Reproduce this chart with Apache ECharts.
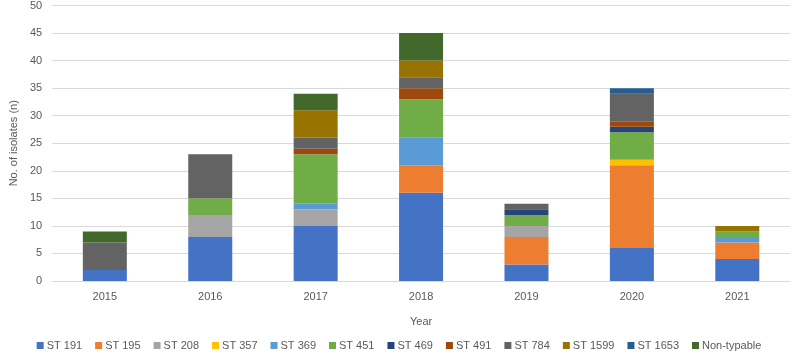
<!DOCTYPE html>
<html>
<head>
<meta charset="utf-8">
<script src="https://cdn.jsdelivr.net/npm/echarts@6/dist/echarts.min.js"></script>
<style>
  html, body { margin: 0; padding: 0; background: #fff; }
  #chart { width: 798px; height: 358px; }
</style>
</head>
<body>
<div id="chart"></div>
<script>
  const years = ["2015", "2016", "2017", "2018", "2019", "2020", "2021"];
  const st191 = [2, 8, 10, 16, 3, 6, 4];
  const st195 = [0, 0, 0, 5, 5, 15, 3];
  const st208 = [0, 4, 3, 0, 2, 0, 0];
  const st357 = [0, 0, 0, 0, 0, 1, 0];
  const st369 = [0, 0, 1, 5, 0, 0, 1];
  const st451 = [0, 3, 9, 7, 2, 5, 1];
  const st469 = [0, 0, 0, 0, 1, 1, 0];
  const st491 = [0, 0, 1, 2, 0, 1, 0];
  const st784 = [5, 8, 2, 2, 1, 5, 0];
  const st1599 = [0, 0, 5, 3, 0, 0, 1];
  const st1653 = [0, 0, 0, 0, 0, 1, 0];
  const nonTypable = [2, 0, 3, 5, 0, 0, 0];

  const seriesDefs = [
    ["ST 191", st191, "#4472C4"],
    ["ST 195", st195, "#ED7D31"],
    ["ST 208", st208, "#A5A5A5"],
    ["ST 357", st357, "#FFC000"],
    ["ST 369", st369, "#5B9BD5"],
    ["ST 451", st451, "#70AD47"],
    ["ST 469", st469, "#264478"],
    ["ST 491", st491, "#9E480E"],
    ["ST 784", st784, "#636363"],
    ["ST 1599", st1599, "#997300"],
    ["ST 1653", st1653, "#255E91"],
    ["Non-typable", nonTypable, "#43682B"]
  ];

  const font = "Liberation Sans, Arial, sans-serif";
  const chart = echarts.init(document.getElementById("chart"));
  chart.setOption({
    animation: false,
    textStyle: { fontFamily: font },
    grid: { left: 36, right: 8, top: 5, bottom: 77 },
    legend: {
      bottom: 2,
      left: "center",
      itemWidth: 7,
      itemHeight: 7,
      itemGap: 13,
      icon: "rect",
      textStyle: { fontSize: 11, color: "#595959", fontFamily: font, padding: [0, 0, 0, -2] },
      data: seriesDefs.map(d => d[0])
    },
    xAxis: {
      type: "category",
      data: years,
      name: "Year",
      nameLocation: "middle",
      nameGap: 35,
      nameTextStyle: { fontSize: 11, color: "#595959" },
      axisLine: { lineStyle: { color: "#D9D9D9" } },
      axisTick: { show: false },
      axisLabel: { fontSize: 11, color: "#595959", margin: 10 }
    },
    yAxis: {
      type: "value",
      min: 0,
      max: 50,
      interval: 5,
      name: "No. of isolates (n)",
      nameLocation: "middle",
      nameGap: 26,
      nameTextStyle: { fontSize: 11, color: "#595959" },
      axisLine: { show: false },
      axisTick: { show: false },
      axisLabel: { fontSize: 11, color: "#595959", margin: 10 },
      splitLine: { lineStyle: { color: "#D9D9D9" } }
    },
    series: seriesDefs.map(d => ({
      name: d[0],
      type: "bar",
      stack: "total",
      barWidth: 44,
      data: d[1].map(v => (v === 0 ? null : v)),
      itemStyle: { color: d[2] }
    }))
  });
</script>
</body>
</html>
